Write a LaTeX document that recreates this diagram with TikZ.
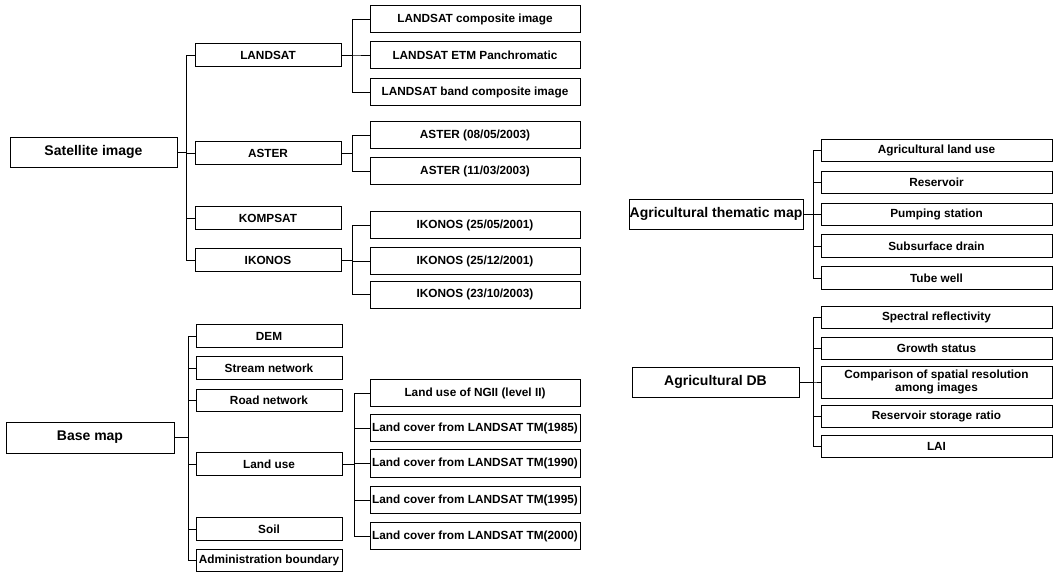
\documentclass[tikz,border=0pt]{standalone}
\usepackage{fontspec}
\setmainfont{Liberation Sans}
\usetikzlibrary{positioning}

\begin{document}
\begin{tikzpicture}[
    x=1pt, y=-1pt,
    box/.style={rectangle, draw, line width=0.9pt, inner sep=0pt, align=center, font=\bfseries\fontsize{11.8}{13}\selectfont},
    root/.style={box, minimum height=30pt, font=\bfseries\fontsize{14}{16}\selectfont},
    mid/.style={box, minimum width=146pt, minimum height=22.5pt},
    leaf/.style={box, minimum width=210pt, minimum height=27.5pt},
    item/.style={box, minimum width=231pt, minimum height=22.5pt},
    link/.style={line width=0.9pt},
]
\useasboundingbox (0,0) rectangle (1054,572);

% Satellite image
\node[root, minimum width=167pt] (sat) at (93.5,152) {Satellite image};

\node[mid] (landsat) at (268,55) {LANDSAT};
\node[mid] (aster)   at (268,153) {ASTER};
\node[mid] (kompsat) at (268,218) {KOMPSAT};
\node[mid] (ikonos)  at (268,260) {IKONOS};

\node[leaf] (ls1) at (475,19) {LANDSAT composite image};
\node[leaf] (ls2) at (475,55) {LANDSAT ETM Panchromatic};
\node[leaf] (ls3) at (475,92) {LANDSAT band composite image};

\node[leaf, minimum height=27pt] (as1) at (475,135) {ASTER (08/05/2003)};
\node[leaf, minimum height=27pt] (as2) at (475,171) {ASTER (11/03/2003)};

\node[leaf, minimum height=27pt] (ik1) at (475,225) {IKONOS (25/05/2001)};
\node[leaf, minimum height=27pt] (ik2) at (475,261) {IKONOS (25/12/2001)};
\node[leaf, minimum height=27pt] (ik3) at (475,294.5) {IKONOS (23/10/2003)};

% Base map
\node[root, minimum width=168pt, minimum height=31pt] (base) at (90,437.5) {Base map};

\node[mid] (dem)    at (269,336) {DEM};
\node[mid] (stream) at (269,368) {Stream network};
\node[mid] (road)   at (269,400.5) {Road network};
\node[mid] (luse)   at (269,464) {Land use};
\node[mid] (soil)   at (269,529) {Soil};
\node[mid] (admin)  at (269,560.5) {Administration boundary};

\node[leaf] (lu1) at (475,393) {Land use of NGII (level II)};
\node[leaf] (lu2) at (475,428) {Land cover from LANDSAT TM(1985)};
\node[leaf] (lu3) at (475,463.5) {Land cover from LANDSAT TM(1990)};
\node[leaf] (lu4) at (475,500) {Land cover from LANDSAT TM(1995)};
\node[leaf] (lu5) at (475,536) {Land cover from LANDSAT TM(2000)};

% Agricultural thematic map
\node[root, minimum width=174pt] (agmap) at (716,214) {Agricultural thematic map};

\node[item] (am1) at (936.5,150.5) {Agricultural land use};
\node[item] (am2) at (936.5,182.5) {Reservoir};
\node[item] (am3) at (936.5,214.5) {Pumping station};
\node[item] (am4) at (936.5,246) {Subsurface drain};
\node[item] (am5) at (936.5,278) {Tube well};

% Agricultural DB
\node[root, minimum width=167pt] (agdb) at (715.5,382) {Agricultural DB};

\node[item, minimum height=21.5pt] (db1) at (936.5,317.5) {Spectral reflectivity};
\node[item, minimum height=21.5pt] (db2) at (936.5,348.5) {Growth status};
\node[item, minimum height=32pt] (db3) at (936.5,382) {Comparison of spatial resolution\\among images};
\node[item, minimum height=22pt] (db4) at (936.5,416) {Reservoir storage ratio};
\node[item, minimum height=22pt] (db5) at (936.5,446) {LAI};

% Links - satellite image
\draw[link] (sat.east) -- ++(9,0) |- (landsat.west);
\draw[link] (sat.east) -- ++(9,0) |- (aster.west);
\draw[link] (sat.east) -- ++(9,0) |- (kompsat.west);
\draw[link] (sat.east) -- ++(9,0) |- (ikonos.west);

\draw[link] (landsat.east) -- ++(11,0) |- (ls1.west);
\draw[link] (landsat.east) -- ++(11,0) |- (ls2.west);
\draw[link] (landsat.east) -- ++(11,0) |- (ls3.west);

\draw[link] (aster.east) -- ++(11,0) |- (as1.west);
\draw[link] (aster.east) -- ++(11,0) |- (as2.west);

\draw[link] (ikonos.east) -- ++(11,0) |- (ik1.west);
\draw[link] (ikonos.east) -- ++(11,0) |- (ik2.west);
\draw[link] (ikonos.east) -- ++(11,0) |- (ik3.west);

% Links - base map
\draw[link] (base.east) -- ++(14,0) |- (dem.west);
\draw[link] (base.east) -- ++(14,0) |- (stream.west);
\draw[link] (base.east) -- ++(14,0) |- (road.west);
\draw[link] (base.east) -- ++(14,0) |- (luse.west);
\draw[link] (base.east) -- ++(14,0) |- (soil.west);
\draw[link] (base.east) -- ++(14,0) |- (admin.west);

\draw[link] (luse.east) -- ++(12,0) |- (lu1.west);
\draw[link] (luse.east) -- ++(12,0) |- (lu2.west);
\draw[link] (luse.east) -- ++(12,0) |- (lu3.west);
\draw[link] (luse.east) -- ++(12,0) |- (lu4.west);
\draw[link] (luse.east) -- ++(12,0) |- (lu5.west);

% Links - agricultural thematic map
\draw[link] (agmap.east) -- ++(10,0) |- (am1.west);
\draw[link] (agmap.east) -- ++(10,0) |- (am2.west);
\draw[link] (agmap.east) -- ++(10,0) |- (am3.west);
\draw[link] (agmap.east) -- ++(10,0) |- (am4.west);
\draw[link] (agmap.east) -- ++(10,0) |- (am5.west);

% Links - agricultural DB
\draw[link] (agdb.east) -- ++(14,0) |- (db1.west);
\draw[link] (agdb.east) -- ++(14,0) |- (db2.west);
\draw[link] (agdb.east) -- ++(14,0) |- (db3.west);
\draw[link] (agdb.east) -- ++(14,0) |- (db4.west);
\draw[link] (agdb.east) -- ++(14,0) |- (db5.west);

\end{tikzpicture}
\end{document}
